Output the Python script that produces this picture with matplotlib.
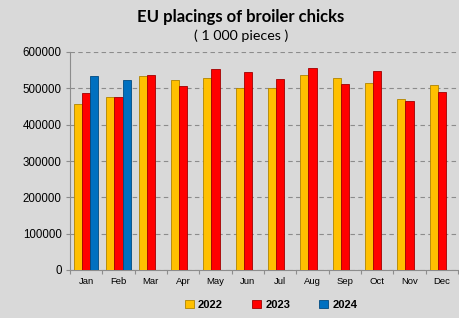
import matplotlib
matplotlib.use("Agg")
import matplotlib.pyplot as plt
import numpy as np
from matplotlib.patches import Rectangle, Patch

months = ["Jan", "Feb", "Mar", "Apr", "May", "Jun", "Jul", "Aug", "Sep", "Oct", "Nov", "Dec"]
y2022 = [458000, 477000, 533000, 524000, 528000, 502000, 500000, 537000, 528000, 516000, 471000, 508000]
y2023 = [488000, 477000, 537000, 506000, 552000, 544000, 526000, 557000, 513000, 549000, 466000, 491000]
y2024 = [534000, 522000]
yticks = [0, 100000, 200000, 300000, 400000, 500000, 600000]

bg = "#d9d9d9"
fig = plt.figure(figsize=(4.59, 3.18), dpi=100, facecolor=bg)
fig.patches.append(Rectangle((0, 318 - 309), 4 / 459, 309 / 318, transform=fig.transFigure,
                             facecolor="#4aa829", edgecolor="none", figure=fig))

ax = fig.add_axes([70 / 459, 48 / 318, 388 / 459, 218 / 318])
ax.set_facecolor(bg)
x = np.arange(len(months))
w = 0.25
series = [(y2022, "#FFC000", "#b08400", "2022", -w),
          (y2023, "#FF0000", "#a00000", "2023", 0),
          (y2024, "#0070C0", "#004a80", "2024", w)]
for vals, col, ec, lab, off in series:
    xs = x[:len(vals)] + off
    ax.bar(xs, vals, width=w, color=col, edgecolor=ec, linewidth=0.6, zorder=3)

ax.set_ylim(0, 600000)
ax.set_xlim(-0.5, 11.5)
ax.set_yticks(yticks)
ax.set_yticklabels([str(v) for v in yticks], fontsize=8.3, family="Liberation Sans")
ax.yaxis.grid(True, color="#8c8c8c", linestyle=(0, (4, 3)), linewidth=0.8, zorder=0)
ax.set_xticks(x)
ax.set_xticklabels(months, fontsize=6.8, family="Liberation Sans")
ax.set_xticks(np.arange(-0.5, 12, 1), minor=True)
ax.tick_params(axis="x", which="major", length=0, pad=5)
ax.tick_params(axis="x", which="minor", length=3, color="#8c8c8c", width=0.8)
ax.tick_params(axis="y", length=3, color="#8c8c8c", width=0.8, pad=3)
for s in ["top", "right"]:
    ax.spines[s].set_visible(False)
for s in ["left", "bottom"]:
    ax.spines[s].set_color("#8c8c8c")
    ax.spines[s].set_linewidth(0.8)

fig.text(241 / 459, 1 - 17 / 318, "EU placings of broiler chicks", ha="center", va="center",
         fontsize=12, fontweight="bold", family="Lato")
fig.text(241 / 459, 1 - 36 / 318, "( 1 000 pieces )", ha="center", va="center",
         fontsize=10.3, family="Lato")

handles = [Patch(facecolor=c, edgecolor=e, linewidth=0.6) for _, c, e, _, _ in series]
labels = [l for _, _, _, l, _ in series]
fig.legend(handles, labels, loc="center", bbox_to_anchor=(271 / 459, 1 - 305 / 318), ncol=3,
           frameon=False, prop={"family": "Liberation Sans", "weight": "bold", "size": 8},
           handlelength=0.8, handleheight=0.8, handletextpad=0.4, columnspacing=2.6)

fig.savefig("out.png", dpi=100, facecolor=bg)
